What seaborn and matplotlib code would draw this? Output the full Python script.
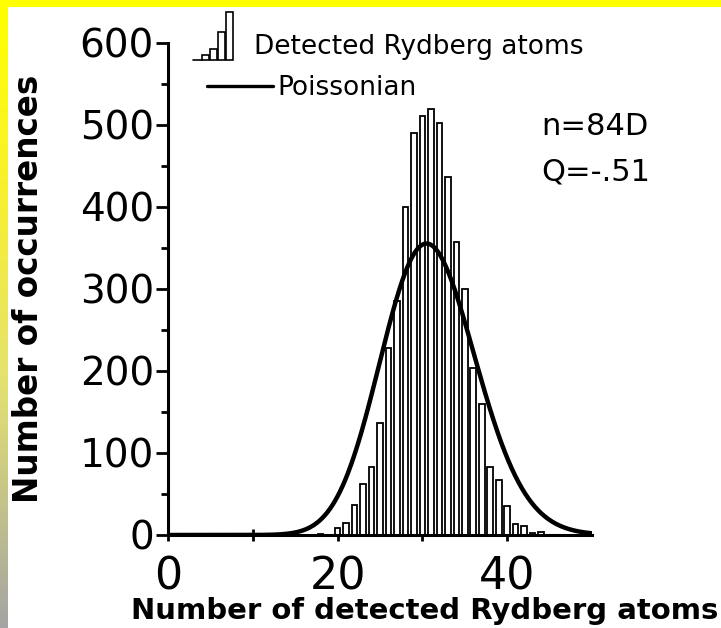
import math
import numpy as np
import matplotlib
matplotlib.use("Agg")
import matplotlib.pyplot as plt
import seaborn as sns
from matplotlib.legend_handler import HandlerBase
from matplotlib.patches import Rectangle
from matplotlib.lines import Line2D
from matplotlib.ticker import FixedLocator, MultipleLocator

# histogram: detected atoms per shot -> number of shots
atoms = [18, 20, 21, 22, 23, 24, 25, 26, 27, 28, 29, 30, 31,
         32, 33, 34, 35, 36, 37, 38, 39, 40, 41, 42, 43, 44]
occurrences = [1, 9, 15, 36, 62, 83, 137, 228, 285, 400, 490, 511, 520,
               503, 436, 357, 300, 204, 160, 83, 67, 35, 13, 11, 3, 4]

x_ticks = [0, 20, 40]
x_minor = [10, 30]
y_ticks = [0, 100, 200, 300, 400, 500, 600]
annotation = ["n=84D", "Q=-.51"]

# Poissonian with the same mean and number of shots as the histogram
total = sum(occurrences)
mean = sum(k * n for k, n in zip(atoms, occurrences)) / total
grid = np.linspace(0, 50, 501)
poisson = [total * math.exp(k * math.log(mean) - mean - math.lgamma(k + 1)) for k in grid]


class HistIconHandler(HandlerBase):
    # little staircase of bars used as the legend key
    def create_artists(self, legend, orig_handle, xdescent, ydescent,
                       width, height, fontsize, trans):
        rel = [0.1, 0.22, 0.58, 1.0]
        top = height * 2.6
        step = width / 5.0
        x0 = -xdescent + step * 1.1
        y0 = -ydescent - 0.3 * height
        arts = [Line2D([-xdescent, x0], [y0, y0], color="black", lw=1.2, transform=trans)]
        for i, r in enumerate(rel):
            arts.append(Rectangle((x0 + i * step * 0.98, y0), step * 0.8, top * r,
                                  facecolor="white", edgecolor="black", lw=1.2, transform=trans))
        return arts


sns.set_theme(style="ticks")
plt.rcParams["font.family"] = ["DejaVu Sans"]
for key in ["text.color", "axes.labelcolor", "xtick.color", "ytick.color", "axes.edgecolor"]:
    plt.rcParams[key] = "black"

fig = plt.figure(figsize=(7.21, 6.28), dpi=100)
fig.patch.set_facecolor("white")

# slide decoration: yellow band on top, yellow-to-grey strip on the left
fig.add_artist(Rectangle((0, 1 - 7 / 628), 1, 7 / 628, transform=fig.transFigure,
                         facecolor="#FFFF00", edgecolor="none"))
strip = fig.add_axes([0, 0, 8 / 721, 1 - 7 / 628])
grad = np.linspace(0, 1, 256).reshape(-1, 1)
cmap = matplotlib.colors.LinearSegmentedColormap.from_list(
    "slide", [(0, "#FFFF00"), (0.3, "#F8F030"), (0.6, "#E4E270"), (1, "#A4A4A4")])
strip.imshow(grad, aspect="auto", cmap=cmap)
strip.set_axis_off()

ax = fig.add_axes([168 / 721, 93 / 628, 424 / 721, 492 / 628])
ax.set_facecolor("white")

sns.histplot(x=atoms, weights=occurrences, discrete=True, shrink=0.66,
             color="white", edgecolor="black", linewidth=1.3, alpha=1, ax=ax)
sns.lineplot(x=grid, y=poisson, color="black", linewidth=3.2, ax=ax)

sns.despine(ax=ax)
for side in ["left", "bottom"]:
    ax.spines[side].set_linewidth(2.2)
    ax.spines[side].set_color("black")
ax.set_xlim(0, 50)
ax.set_ylim(0, 600)
ax.set_xticks(x_ticks)
ax.xaxis.set_minor_locator(FixedLocator(x_minor))
ax.set_yticks(y_ticks)
ax.yaxis.set_minor_locator(MultipleLocator(50))
ax.tick_params(axis="y", which="major", direction="out", length=9, width=2, labelsize=28, pad=1)
ax.tick_params(axis="y", which="minor", direction="out", length=5, width=2)
ax.tick_params(axis="x", which="both", direction="inout", length=9, width=2, labelsize=32, pad=10)

ax.set_ylabel("Number of occurrences", fontsize=23.5, fontweight="bold")
ax.yaxis.set_label_coords(-0.29, 0.5)
ax.set_xlabel("Number of detected Rydberg atoms", fontsize=21, fontweight="bold")
ax.xaxis.set_label_coords(0.606, -0.127)

ax.text(0.88, 0.813, annotation[0], transform=ax.transAxes, fontsize=22, va="baseline")
ax.text(0.88, 0.7215, annotation[1], transform=ax.transAxes, fontsize=22, va="baseline")

hist_key = Rectangle((0, 0), 1, 1)
leg1 = ax.legend([hist_key], ["Detected Rydberg atoms"], handler_map={Rectangle: HistIconHandler()},
                 loc="lower left", bbox_to_anchor=(193 / 721, 1 - 60 / 628), bbox_transform=fig.transFigure,
                 frameon=False, fontsize=19, borderpad=0, borderaxespad=0, handlelength=1.55,
                 handletextpad=0.75)
ax.add_artist(leg1)
line_key = Line2D([], [], color="black", lw=2.4)
ax.legend([line_key], ["Poissonian"], loc="lower left", bbox_to_anchor=(207 / 721, 1 - 101 / 628),
          bbox_transform=fig.transFigure, frameon=False, fontsize=19, borderpad=0, borderaxespad=0,
          handlelength=2.5, handletextpad=0.15)

fig.savefig("out.png", dpi=100)
